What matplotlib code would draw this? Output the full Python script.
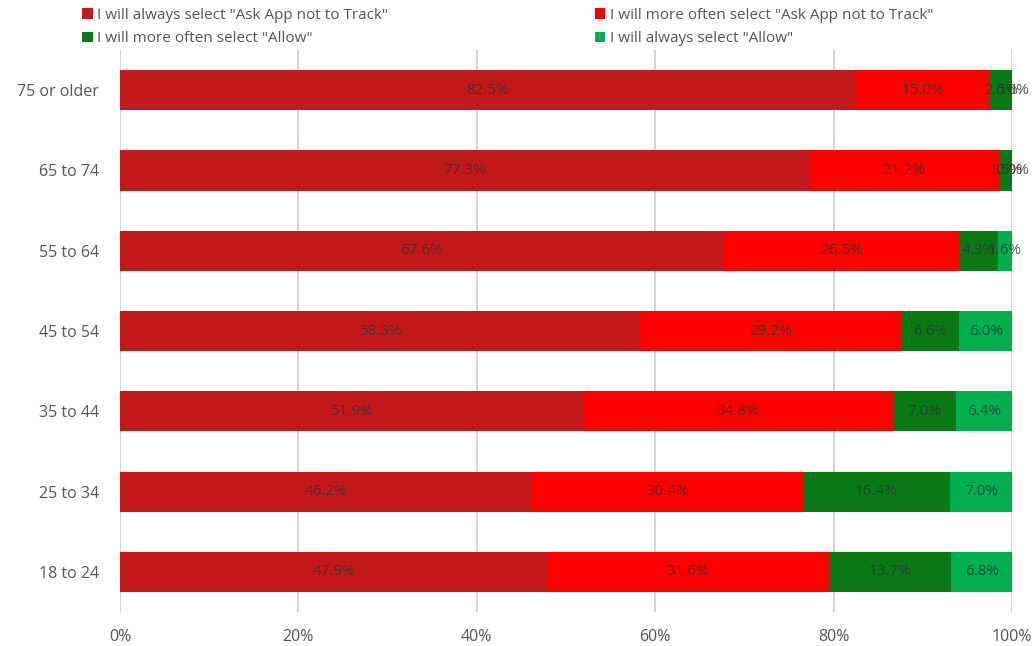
import matplotlib.pyplot as plt
import numpy as np

plt.rcParams['font.family'] = ['Open Sans', 'DejaVu Sans']

groups = ['18 to 24', '25 to 34', '35 to 44', '45 to 54', '55 to 64', '65 to 74', '75 or older']
always_ask = [47.9, 46.2, 51.9, 58.3, 67.6, 77.3, 82.5]
more_ask = [31.6, 30.4, 34.8, 29.2, 26.5, 21.2, 15.0]
more_allow = [13.7, 16.4, 7.0, 6.6, 4.3, 1.5, 2.5]
always_allow = [6.8, 7.0, 6.4, 6.0, 1.6, 0.0, 0.0]

series = [
    ('I will always select "Ask App not to Track"', always_ask, '#C4191B'),
    ('I will more often select "Ask App not to Track"', more_ask, '#FF0000'),
    ('I will more often select "Allow"', more_allow, '#0A7A16'),
    ('I will always select "Allow"', always_allow, '#00B050'),
]

fig = plt.figure(figsize=(10.35, 6.46), dpi=100)
ax = fig.add_axes([0.1159, 0.0526, 0.8619, 0.87])

y = np.arange(len(groups))
left = np.zeros(len(groups))
handles = []
for name, vals, color in series:
    vals = np.array(vals)
    b = ax.barh(y, vals, left=left, height=0.5, color=color, label=name, zorder=2)
    handles.append(b)
    for yi, l, v in zip(y, left, vals):
        ax.text(l + v / 2, yi, f'{v:.1f}%', ha='center', va='center', fontsize=11,
                color='#333333', alpha=0.8, zorder=3)
    left += vals

ax.set_xlim(0, 100)
ax.set_ylim(-0.5, 6.5)
ax.set_yticks(y)
ax.set_yticklabels(groups)
ax.set_xticks(np.arange(0, 101, 20))
ax.set_xticklabels([f'{t}%' for t in range(0, 101, 20)])
ax.tick_params(axis='both', length=0, labelsize=11.5, labelcolor='#555555')
ax.tick_params(axis='y', pad=15)
ax.tick_params(axis='x', pad=12)
ax.xaxis.grid(True, color='#cccccc', linewidth=1.2, zorder=0)
for s in ax.spines.values():
    s.set_visible(False)

order = [0, 2, 1, 3]
fig.legend([handles[i] for i in order], [series[i][0] for i in order], ncol=2,
           loc='upper left', bbox_to_anchor=(0.066, 1.009), frameon=False,
           handlelength=0.7, handleheight=0.7, handletextpad=0.3, columnspacing=13.5,
           labelspacing=0.55, fontsize=11, labelcolor='#555555')

fig.savefig('out.png', dpi=100)
